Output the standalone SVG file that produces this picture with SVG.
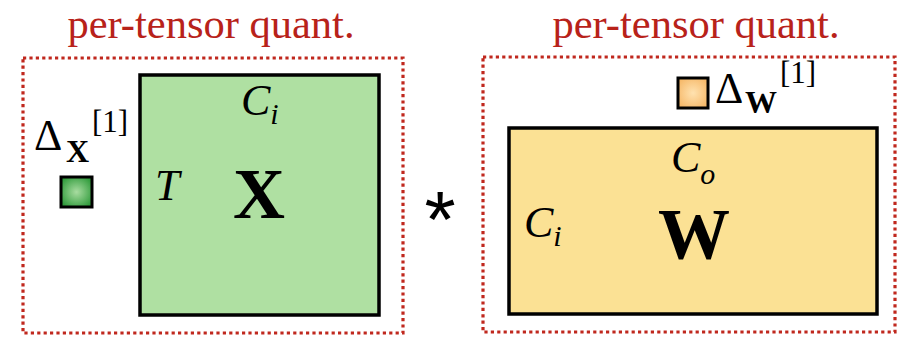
<svg xmlns="http://www.w3.org/2000/svg" width="900" height="337" viewBox="0 0 900 337">
<defs>
<radialGradient id="gg" cx="0.5" cy="0.5" r="0.6">
<stop offset="0" stop-color="#a8dca0"/><stop offset="1" stop-color="#2e9a3a"/>
</radialGradient>
<radialGradient id="og" cx="0.5" cy="0.5" r="0.6">
<stop offset="0" stop-color="#ffe2b0"/><stop offset="1" stop-color="#f6b868"/>
</radialGradient>
<style>
.dot{fill:none;stroke:#c0281e;stroke-width:3.2;stroke-dasharray:3.2 3.2}
.title{font-family:"Liberation Serif",serif;font-size:42.5px;fill:#b8221a;text-anchor:middle}
.m{font-family:"Liberation Serif",serif;fill:#000}
.it{font-style:italic}
.bf{font-weight:bold}
.mat{stroke:#000;stroke-width:3.5}
.sq{stroke:#000;stroke-width:3}
</style>
</defs>
<rect width="900" height="337" fill="#fff"/>
<g id="left-group">
<text class="title" x="211" y="38">per-tensor quant.</text>
<rect class="dot" x="23" y="58" width="380" height="275"/>
</g>
<g id="X-matrix">
<rect class="mat" x="140" y="75" width="239" height="240" fill="#afe0a2"/>
<text class="m it" x="241" y="115" font-size="44">C<tspan font-size="30" dy="9">i</tspan></text>
<text class="m it" x="155" y="200" font-size="44">T</text>
<text class="m bf" x="233" y="218" font-size="72">X</text>
</g>
<g id="delta-X">
<text class="m" x="34" y="150" font-size="44">Δ<tspan class="bf" font-size="32" x="66" y="162">X</tspan><tspan font-size="31" x="92" y="132">[1]</tspan></text>
<rect class="sq" x="61" y="177" width="31" height="30" fill="url(#gg)"/>
</g>
<g id="op">
<text x="440" y="247" font-family="Liberation Sans,sans-serif" font-size="80" text-anchor="middle">*</text>
</g>
<g id="right-group">
<text class="title" x="696" y="38">per-tensor quant.</text>
<rect class="dot" x="483" y="57" width="412" height="275"/>
</g>
<g id="delta-W">
<rect class="sq" x="678" y="78" width="30" height="30" fill="url(#og)"/>
<text class="m" x="715" y="103" font-size="44">Δ<tspan class="bf" font-size="32" x="745" y="113">W</tspan><tspan font-size="31" x="780" y="83">[1]</tspan></text>
</g>
<g id="W-matrix">
<rect class="mat" x="509" y="128" width="368" height="186" fill="#fbe194"/>
<text class="m it" x="671" y="172" font-size="44">C<tspan font-size="30" dy="12">o</tspan></text>
<text class="m it" x="524" y="237" font-size="44">C<tspan font-size="30" dy="9">i</tspan></text>
<text class="m bf" x="658" y="258" font-size="72">W</text>
</g>
</svg>
